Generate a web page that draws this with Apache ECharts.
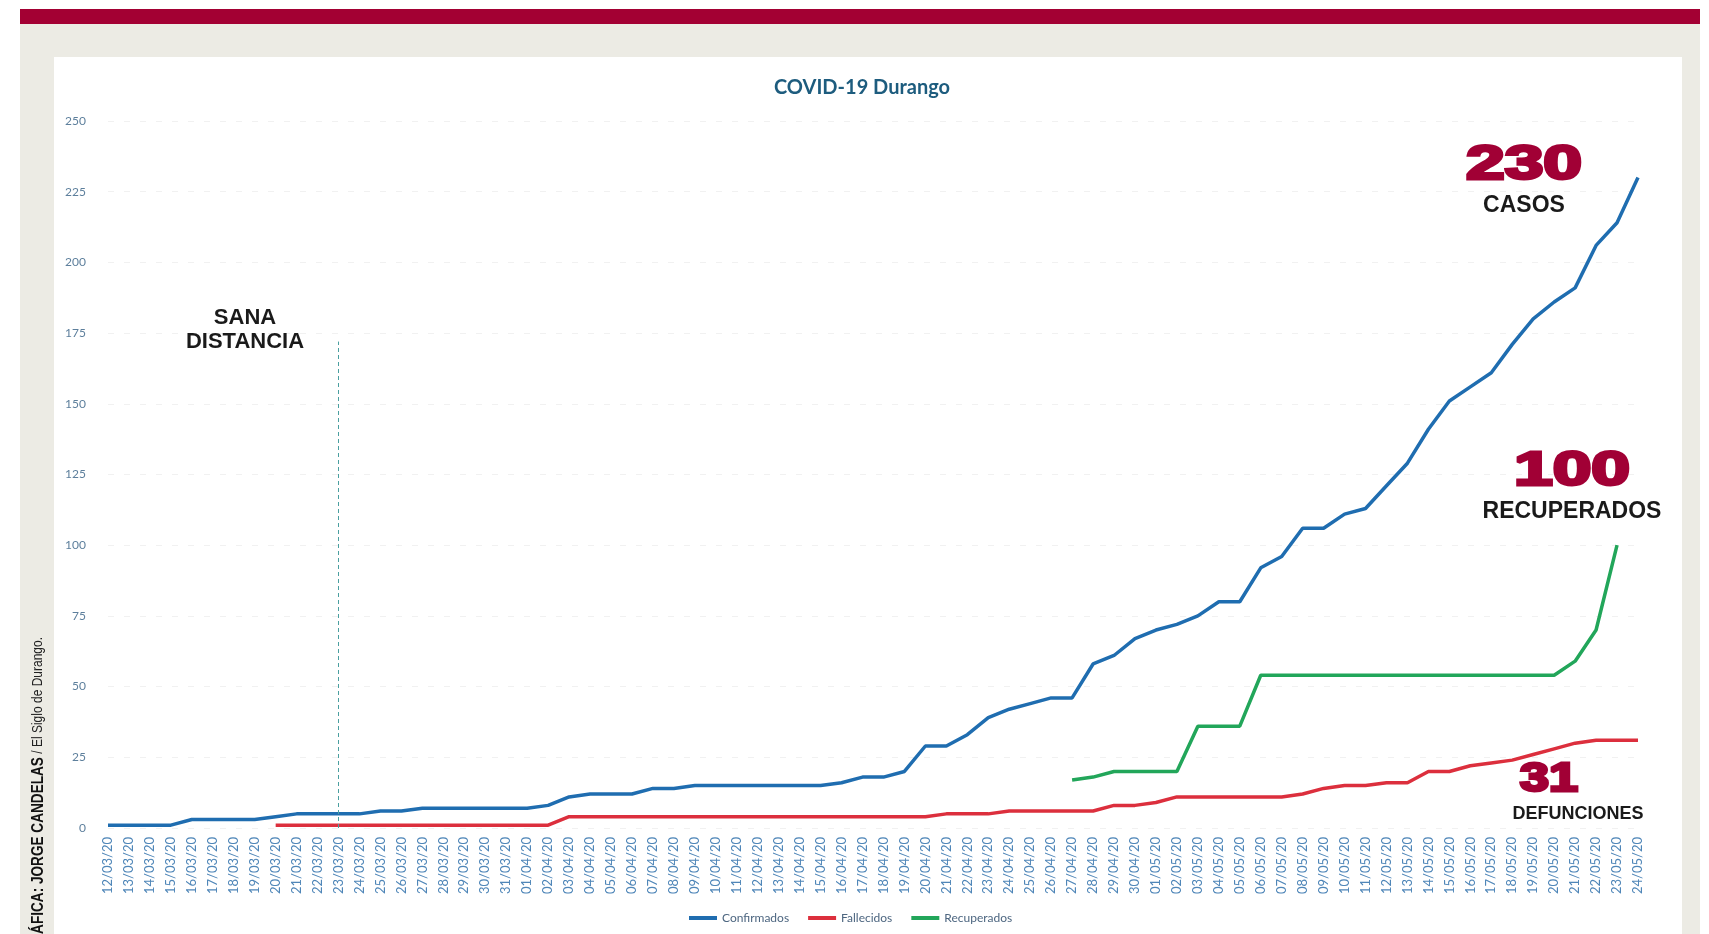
<!DOCTYPE html>
<html>
<head>
<meta charset="utf-8">
<title>COVID-19 Durango</title>
<script src="https://cdn.jsdelivr.net/npm/echarts@6/dist/echarts.min.js"></script>
<style>
    body { margin: 0; background: #fff; width: 1709px; height: 934px; overflow: hidden; position: relative; }
    #barra { position: absolute; left: 20px; top: 9px; width: 1680px; height: 15px; background: #a30033; }
    #marco { position: absolute; left: 20px; top: 24px; width: 1680px; height: 910px; background: #ecebe4; }
    #panel { position: absolute; left: 54px; top: 57px; width: 1628px; height: 877px; background: #fff; }
    #main { position: absolute; left: 0; top: 0; width: 1709px; height: 934px; }
</style>
</head>
<body>
<div id="barra"></div>
<div id="marco"></div>
<div id="panel"></div>
<div id="main"></div>
<script>
// fechas del eje x
let fechas = [
    '12/03/20', '13/03/20', '14/03/20', '15/03/20', '16/03/20', '17/03/20', '18/03/20', '19/03/20', '20/03/20', '21/03/20',
    '22/03/20', '23/03/20', '24/03/20', '25/03/20', '26/03/20', '27/03/20', '28/03/20', '29/03/20', '30/03/20', '31/03/20',
    '01/04/20', '02/04/20', '03/04/20', '04/04/20', '05/04/20', '06/04/20', '07/04/20', '08/04/20', '09/04/20', '10/04/20',
    '11/04/20', '12/04/20', '13/04/20', '14/04/20', '15/04/20', '16/04/20', '17/04/20', '18/04/20', '19/04/20', '20/04/20',
    '21/04/20', '22/04/20', '23/04/20', '24/04/20', '25/04/20', '26/04/20', '27/04/20', '28/04/20', '29/04/20', '30/04/20',
    '01/05/20', '02/05/20', '03/05/20', '04/05/20', '05/05/20', '06/05/20', '07/05/20', '08/05/20', '09/05/20', '10/05/20',
    '11/05/20', '12/05/20', '13/05/20', '14/05/20', '15/05/20', '16/05/20', '17/05/20', '18/05/20', '19/05/20', '20/05/20',
    '21/05/20', '22/05/20', '23/05/20', '24/05/20'
];

let confirmados = [
    1, 1, 1, 1, 3, 3, 3, 3, 4, 5,
    5, 5, 5, 6, 6, 7, 7, 7, 7, 7,
    7, 8, 11, 12, 12, 12, 14, 14, 15, 15,
    15, 15, 15, 15, 15, 16, 18, 18, 20, 29,
    29, 33, 39, 42, 44, 46, 46, 58, 61, 67,
    70, 72, 75, 80, 80, 92, 96, 106, 106, 111,
    113, 121, 129, 141, 151, 156, 161, 171, 180, 186,
    191, 206, 214, 230
];

let fallecidos = [
    null, null, null, null, null, null, null, null, 1, 1,
    1, 1, 1, 1, 1, 1, 1, 1, 1, 1,
    1, 1, 4, 4, 4, 4, 4, 4, 4, 4,
    4, 4, 4, 4, 4, 4, 4, 4, 4, 4,
    5, 5, 5, 6, 6, 6, 6, 6, 8, 8,
    9, 11, 11, 11, 11, 11, 11, 12, 14, 15,
    15, 16, 16, 20, 20, 22, 23, 24, 26, 28,
    30, 31, 31, 31
];

let recuperados = [
    null, null, null, null, null, null, null, null, null, null,
    null, null, null, null, null, null, null, null, null, null,
    null, null, null, null, null, null, null, null, null, null,
    null, null, null, null, null, null, null, null, null, null,
    null, null, null, null, null, null, 17, 18, 20, 20,
    20, 20, 36, 36, 36, 54, 54, 54, 54, 54,
    54, 54, 54, 54, 54, 54, 54, 54, 54, 54,
    59, 70, 100, null
];

let inicioSanaDistancia = '23/03/20';

const rojo = '#a10035';

// cifra grande en rojo (trazo del mismo color para engrosarla)
function cifra(texto, x, y, size, sx) {
    return {
        type: 'text', x: x, y: y, z: 100, scaleX: sx,
        style: {
            text: texto, align: 'center', verticalAlign: 'middle',
            font: 'bold ' + size + 'px "Liberation Sans"',
            fill: rojo, stroke: rojo, lineWidth: 3
        }
    };
}

function rotulo(texto, x, y, size) {
    return {
        type: 'text', x: x, y: y, z: 100,
        style: { text: texto, align: 'center', verticalAlign: 'middle', font: 'bold ' + size + 'px "Liberation Sans"', fill: '#1a1a1a' }
    };
}

let option = {
    animation: false,
    title: {
        text: 'COVID-19 Durango',
        left: 857,
        top: 73,
        textAlign: 'center',
        textStyle: { fontFamily: 'Lato', fontWeight: 'bold', fontSize: 20, color: '#1d5c7e' }
    },
    legend: {
        left: 684,
        top: 907,
        icon: 'rect',
        itemWidth: 28,
        itemHeight: 4,
        itemGap: 19,
        textStyle: { fontFamily: 'Lato', fontSize: 12, color: '#4d6680' },
        data: ['Confirmados', 'Fallecidos', 'Recuperados']
    },
    grid: { left: 108, right: 71, top: 121, bottom: 106 },
    xAxis: {
        type: 'category',
        boundaryGap: false,
        data: fechas,
        axisLine: { show: false },
        axisTick: { show: false },
        axisLabel: {
            interval: 0,
            rotate: 90,
            margin: 9,
            fontFamily: 'Lato',
            fontSize: 13,
            color: '#4f86b8'
        }
    },
    yAxis: {
        type: 'value',
        min: 0,
        max: 250,
        interval: 25,
        axisLine: { show: false },
        axisTick: { show: false },
        axisLabel: { margin: 22, fontFamily: 'Lato', fontSize: 12, color: '#5d7f9c' },
        splitLine: { lineStyle: { color: '#f1f1f1', type: [6, 10] } }
    },
    series: [
        {
            name: 'Confirmados',
            type: 'line',
            data: confirmados,
            showSymbol: false,
            color: '#1f6db0',
            lineStyle: { width: 3.5 },
            markLine: {
                silent: true,
                symbol: 'none',
                label: { show: false },
                lineStyle: { color: '#4a9fa0', type: [4, 3], width: 1 },
                data: [[{ coord: [inicioSanaDistancia, 0] }, { coord: [inicioSanaDistancia, 172] }]]
            }
        },
        {
            name: 'Fallecidos',
            type: 'line',
            data: fallecidos,
            showSymbol: false,
            color: '#dc2f3d',
            lineStyle: { width: 3.5 }
        },
        {
            name: 'Recuperados',
            type: 'line',
            data: recuperados,
            showSymbol: false,
            color: '#22a65a',
            lineStyle: { width: 3.5 }
        }
    ],
    graphic: [
        // rotulo lateral
        {
            type: 'text', x: 38, y: 637, z: 100, rotation: Math.PI / 2, scaleX: 0.8,
            style: {
                text: '{b|GRÁFICA: JORGE CANDELAS}{r| / El Siglo de Durango.}',
                align: 'right', verticalAlign: 'middle',
                rich: {
                    b: { fontFamily: 'Liberation Sans', fontWeight: 'bold', fontSize: 17, fill: '#111' },
                    r: { fontFamily: 'Liberation Sans', fontSize: 15, fill: '#222' }
                }
            }
        },
        rotulo('SANA', 245, 318, 22),
        rotulo('DISTANCIA', 245, 342, 22),
        cifra('230', 1524, 166, 48, 1.45),
        rotulo('CASOS', 1524, 206, 23),
        cifra('100', 1572, 472, 48, 1.45),
        rotulo('RECUPERADOS', 1572, 512, 23),
        cifra('31', 1549, 780, 40, 1.3),
        rotulo('DEFUNCIONES', 1578, 814, 18)
    ]
};

let chart = echarts.init(document.getElementById('main'));
chart.setOption(option);
</script>
</body>
</html>
